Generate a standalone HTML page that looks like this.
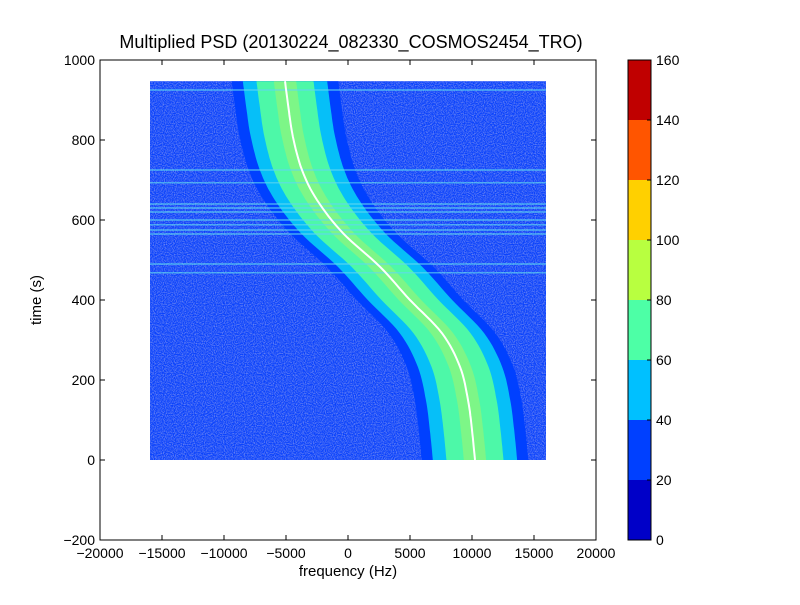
<!DOCTYPE html>
<html><head><meta charset="utf-8"><style>
body{margin:0;background:#fff;width:800px;height:600px;overflow:hidden}
svg text{font-family:"Liberation Sans",sans-serif;font-size:14px;fill:#000}
</style></head><body>
<svg id="chart" width="800" height="600">
<defs>
<filter id="noise" x="0" y="0" width="100%" height="100%"><feTurbulence type="fractalNoise" baseFrequency="0.9" numOctaves="1" seed="3"/><feColorMatrix values="0 0 0 0 0.35  0 0 0 0 0.4  0 0 0 0 0.85  0 0 0 1.6 -0.6"/></filter>
<clipPath id="dclip"><rect x="150" y="81" width="396" height="379"/></clipPath>
</defs>
<text x="351" y="48" text-anchor="middle" style="font-size:18px">Multiplied PSD (20130224_082330_COSMOS2454_TRO)</text>
<g id="plot"></g>
<rect x="100" y="60" width="496" height="480" fill="none" stroke="#000"/>
<g id="axes"></g>
<text x="348" y="576" text-anchor="middle" style="font-size:15px">frequency (Hz)</text>
<text transform="translate(41,300) rotate(-90)" text-anchor="middle" style="font-size:15px">time (s)</text>
<g id="cbar"></g>
</svg>
<script>
const times=[947,880,808,725,650,567,483,400,317,233,150,75,0];
const centerFreq=[-5080,-4800,-4440,-3710,-2500,-400,2580,5000,7580,9030,9680,10000,10240];
const lineTimes=[925,725,693,640,630,620,600,588,575,565,490,468];
const xTicks=[-20000,-15000,-10000,-5000,0,5000,10000,15000,20000];
const yTicks=[-200,0,200,400,600,800,1000];
const cbTicks=[0,20,40,60,80,100,120,140,160];
const cbColors=['#0000c8','#0040ff','#00c0ff','#4dffa6','#b8ff40','#ffd000','#ff5500','#c00000'];
const NS='http://www.w3.org/2000/svg';
const X=f=>348+f*496/40000, Y=t=>460-t*0.4;
function mk(tag,attrs,parent){const e=document.createElementNS(NS,tag);for(const k in attrs)e.setAttribute(k,attrs[k]);parent.appendChild(e);return e;}
// smooth samples via Catmull-Rom on data points
function smooth(off){
  const P=times.map((t,i)=>[X(centerFreq[i]+off),Y(t)]);
  const out=[];
  for(let i=0;i<P.length-1;i++){
    const p0=P[Math.max(0,i-1)],p1=P[i],p2=P[i+1],p3=P[Math.min(P.length-1,i+2)];
    for(let s=0;s<8;s++){const u=s/8,u2=u*u,u3=u2*u;
      out.push([0,1].map(k=>0.5*((2*p1[k])+(-p0[k]+p2[k])*u+(2*p0[k]-5*p1[k]+4*p2[k]-p3[k])*u2+(-p0[k]+3*p1[k]-3*p2[k]+p3[k])*u3)));}
  }
  out.push(P[P.length-1]);return out;
}
const plot=document.getElementById('plot');
const g=mk('g',{'clip-path':'url(#dclip)'},plot);


mk('rect',{x:X(-16000),y:Y(947),width:X(16000)-X(-16000),height:Y(0)-Y(947),fill:'#0a42fc'},g);
mk('rect',{x:X(-16000),y:Y(947),width:X(16000)-X(-16000),height:Y(0)-Y(947),filter:'url(#noise)'},g);
function band(hw,color,name,op){
  const a=smooth(-hw),b=smooth(hw).reverse();
  const p=mk('polygon',{points:a.concat(b).map(q=>q[0].toFixed(1)+','+q[1].toFixed(1)).join(' '),fill:color,opacity:op||1},g);
  
  
}
band(4300,'#0040ff','band-outer');
band(3400,'#06bff8','band-cyan');
band(2300,'#4df8a8','band-green');
band(900,'#b8f560','band-core',0.45);
lineTimes.forEach(t=>{
  const l=mk('line',{x1:X(-16000),x2:X(16000),y1:Y(t),y2:Y(t),stroke:'#60d8f0','stroke-width':1.2,opacity:0.85},g);
  
  
});
const cp=mk('polyline',{points:smooth(0).map(q=>q[0].toFixed(1)+','+q[1].toFixed(1)).join(' '),fill:'none',stroke:'#fff','stroke-width':2},g);


const ax=document.getElementById('axes');
xTicks.forEach(v=>{
  mk('line',{x1:X(v),x2:X(v),y1:540,y2:535,stroke:'#000'},ax);
  mk('line',{x1:X(v),x2:X(v),y1:60,y2:65,stroke:'#000'},ax);
  const t=mk('text',{x:X(v),y:558,'text-anchor':'middle'},ax);t.textContent=v<0?'\u2212'+(-v):v;
  
  
});
yTicks.forEach(v=>{
  mk('line',{x1:100,x2:105,y1:Y(v),y2:Y(v),stroke:'#000'},ax);
  mk('line',{x1:596,x2:591,y1:Y(v),y2:Y(v),stroke:'#000'},ax);
  const t=mk('text',{x:95,y:Y(v)+5,'text-anchor':'end'},ax);t.textContent=v<0?'\u2212'+(-v):v;
  
  
});
const cb=document.getElementById('cbar');
const CY=v=>540-v*3;
cbColors.forEach((c,i)=>{
  const r=mk('rect',{x:628,y:CY(cbTicks[i+1]),width:23,height:CY(cbTicks[i])-CY(cbTicks[i+1]),fill:c},cb);
  
  
});
mk('rect',{x:628,y:60,width:23,height:480,fill:'none',stroke:'#000'},cb);
cbTicks.forEach(v=>{
  mk('line',{x1:651,x2:647,y1:CY(v),y2:CY(v),stroke:'#000'},cb);
  const t=mk('text',{x:656,y:CY(v)+5},cb);t.textContent=v;
  
  
});
</script>
</body></html>
